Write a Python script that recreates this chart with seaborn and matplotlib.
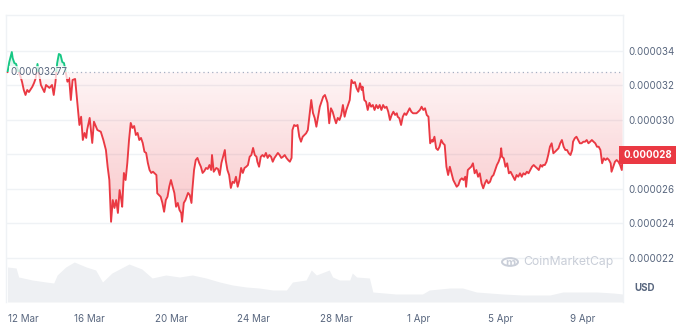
import numpy as np
import matplotlib
matplotlib.use("Agg")
import matplotlib.pyplot as plt
import seaborn as sns
from matplotlib.path import Path
from matplotlib.patches import Rectangle, Circle
import matplotlib.transforms as mtransforms

# ---------------- data ----------------
# hours since 12 Mar 00:00, price in units of 1e-6 USD
hours = [0, 2, 5, 6, 8, 10, 12, 15, 17, 19, 21, 23, 25, 29, 31, 33, 35, 37, 39, 43,
         45, 49, 52, 54, 56, 58, 60, 62, 64, 66, 68, 70, 72, 74, 76, 79, 82, 84, 86, 88,
         90, 92, 93, 96, 99, 101, 105, 109, 112, 115, 117, 119, 121, 123, 125, 127, 129, 131, 133, 134,
         136, 138, 140, 142, 144, 146, 148, 150, 152, 154, 156, 158, 160, 162, 164, 166, 168, 170, 174, 175,
         179, 181, 183, 185, 187, 189, 191, 193, 195, 197, 199, 201, 203, 204, 206, 208, 211, 213, 215, 216,
         218, 220, 222, 224, 226, 228, 230, 232, 234, 236, 238, 239, 241, 244, 246, 248, 250, 254, 255, 257,
         259, 261, 263, 265, 267, 269, 271, 273, 275, 277, 279, 281, 283, 285, 287, 289, 291, 292, 294, 296,
         298, 300, 302, 304, 306, 308, 310, 312, 316, 318, 320, 322, 324, 326, 328, 330, 332, 333, 335, 337,
         339, 341, 343, 345, 347, 349, 351, 353, 355, 357, 359, 361, 363, 365, 367, 369, 371, 373, 374, 376,
         378, 380, 382, 384, 386, 388, 390, 392, 394, 396, 398, 400, 402, 404, 406, 408, 410, 412, 414, 415,
         417, 419, 421, 423, 425, 427, 429, 431, 433, 435, 437, 439, 441, 443, 445, 447, 449, 451, 453, 455,
         456, 458, 460, 462, 464, 466, 468, 470, 472, 474, 478, 480, 482, 484, 486, 488, 490, 492, 494, 496,
         497, 499, 501, 503, 505, 507, 509, 511, 513, 515, 517, 519, 521, 523, 525, 527, 529, 531, 533, 535,
         536, 538, 540, 542, 544, 546, 548, 550, 552, 554, 556, 558, 560, 562, 564, 566, 568, 570, 572, 574,
         576, 577, 578, 580, 582, 584, 586, 588, 590, 593, 595, 597, 599, 601, 603, 605, 607, 609, 611, 613,
         615, 617, 619, 621, 623, 625, 626, 628, 630, 632, 634, 636, 638, 640, 642, 644, 646, 648, 650, 652,
         654, 656, 658, 660, 661, 663, 665, 667, 669, 671, 673, 675, 677, 679, 681, 683, 685, 687, 689, 691,
         693, 695, 697, 699, 701, 703, 705, 706, 708, 710, 712, 714, 716, 718, 719]
price_micro = [32.77, 33.36, 33.94, 33.59, 33.30, 33.25, 32.90, 32.55, 32.20, 31.74, 31.45, 31.74, 31.62, 31.93, 32.15, 32.43, 33.25, 32.61, 32.03, 31.62,
               32.03, 31.86, 32.03, 31.45, 32.20, 33.30, 33.83, 33.77, 33.36, 33.30, 32.78, 32.22, 32.43, 31.16, 32.32, 32.38, 30.77, 29.71, 30.19, 28.84,
               29.25, 28.96, 29.42, 30.12, 28.67, 29.90, 29.42, 29.32, 28.84, 28.26, 27.29, 26.52, 24.10, 25.36, 24.90, 25.36, 24.61, 25.94, 25.36, 24.97,
               26.93, 26.52, 27.51, 28.84, 29.83, 29.54, 29.65, 29.13, 29.25, 28.84, 28.96, 28.67, 28.16, 28.09, 27.51, 27.10, 26.93, 27.00, 26.81, 25.75,
               25.55, 25.19, 24.68, 25.36, 25.55, 26.13, 26.52, 26.13, 25.77, 24.97, 25.19, 24.78, 24.61, 24.10, 25.19, 25.36, 25.77, 25.65, 25.19, 25.94,
               27.10, 27.68, 27.80, 27.51, 27.29, 26.93, 27.04, 27.22, 27.16, 27.39, 27.10, 27.97, 27.00, 27.22, 27.16, 26.81, 27.51, 28.26, 27.68, 27.10,
               26.81, 26.06, 26.42, 26.35, 26.71, 26.13, 26.52, 27.22, 26.93, 27.22, 27.29, 27.39, 27.87, 27.97, 28.38, 27.97, 27.87, 27.58, 27.29, 27.87,
               27.97, 27.87, 28.09, 27.80, 27.97, 27.87, 27.58, 27.80, 28.09, 27.97, 27.80, 27.87, 27.97, 27.80, 27.68, 27.58, 27.80, 29.42, 29.71, 29.65,
               29.71, 29.03, 28.74, 29.03, 29.13, 29.23, 29.42, 30.29, 31.16, 30.41, 30.12, 29.61, 30.19, 30.77, 31.06, 31.35, 31.45, 31.16, 30.99, 29.81,
               30.68, 30.48, 30.12, 29.81, 30.12, 30.00, 30.29, 30.87, 30.19, 30.58, 30.87, 31.16, 32.32, 32.13, 32.20, 31.84, 31.64, 32.13, 31.74, 31.93,
               31.16, 31.06, 30.58, 30.99, 30.77, 30.87, 30.58, 30.87, 30.68, 30.87, 30.58, 30.87, 30.70, 30.77, 30.48, 30.00, 30.29, 30.48, 30.29, 30.39,
               30.19, 30.10, 29.71, 30.19, 30.39, 30.29, 30.48, 30.68, 30.48, 30.39, 30.39, 30.48, 30.58, 30.77, 30.58, 30.68, 30.29, 30.19, 28.65, 28.84,
               28.74, 29.03, 28.36, 28.26, 28.45, 28.84, 28.65, 28.55, 27.29, 26.81, 27.29, 26.91, 26.52, 26.33, 26.13, 26.23, 26.52, 26.62, 26.52, 26.71,
               26.13, 27.10, 27.20, 27.29, 27.49, 26.91, 27.10, 26.71, 26.91, 26.33, 26.04, 26.33, 26.52, 26.33, 26.42, 26.71, 26.81, 27.10, 27.39, 27.58,
               27.87, 28.36, 27.87, 27.78, 27.29, 27.49, 26.91, 27.00, 26.81, 26.52, 26.81, 26.71, 26.91, 26.71, 26.91, 26.84, 27.00, 26.91, 27.10, 27.29,
               27.39, 27.29, 27.20, 27.10, 27.39, 27.29, 27.39, 27.39, 27.58, 27.97, 28.45, 28.65, 28.07, 28.16, 28.26, 28.36, 28.65, 28.84, 28.45, 28.26,
               28.26, 28.07, 27.97, 28.26, 28.74, 28.94, 29.03, 28.84, 28.65, 28.65, 28.74, 28.74, 28.84, 28.65, 28.74, 28.84, 28.74, 28.65, 28.45, 28.45,
               28.26, 27.49, 27.78, 27.68, 27.78, 27.68, 27.49, 27.00, 27.29, 27.58, 27.68, 27.58, 27.39, 27.10, 27.97]
ref_price_micro = 32.77
ref_label = "0.00003277"
last_label = "0.000028"

vol_hours = [0, 10, 13, 29, 45, 54, 58, 68, 78, 92, 103, 111, 122, 142, 157, 169, 185, 201, 216, 232,
             248, 263, 279, 294, 310, 326, 333, 349, 355, 361, 376, 380, 388, 400, 403, 408, 423, 427, 454, 485,
             493, 517, 532, 548, 579, 602, 634, 649, 673, 689, 708, 719]
vol_musd = [3.5, 3.4, 2.5, 2.2, 2.0, 1.9, 2.7, 3.5, 4.0, 3.5, 3.2, 2.0, 2.9, 3.8, 3.3, 2.4, 2.7, 2.5, 2.7, 2.4,
            2.0, 1.7, 1.5, 1.4, 1.2, 1.2, 2.0, 2.2, 3.2, 2.7, 3.2, 2.5, 2.2, 2.2, 2.9, 2.5, 2.4, 1.0, 0.8, 0.8,
            1.2, 1.4, 1.4, 1.0, 0.8, 0.7, 0.7, 1.0, 1.0, 1.0, 0.9, 0.8]

tick_hours = [0, 96, 192, 288, 384, 480, 576, 672]
tick_labels = ["12 Mar", "16 Mar", "20 Mar", "24 Mar", "28 Mar", "1 Apr", "5 Apr", "9 Apr"]
y_ticks_micro = [22, 24, 26, 28, 30, 32, 34]

# ---------------- style ----------------
sns.set_style("white")
plt.rcParams["font.family"] = ["Inter", "DejaVu Sans"]

RED = "#ea3943"
GREEN = "#16c784"
GRAY_TXT = "#58667e"
GRID = "#eff2f5"

W, H = 687, 333
fig = plt.figure(figsize=(W / 100, H / 100), dpi=100)
fig.patch.set_facecolor("white")

left_px, right_px, top_px, bot_px = 6, 623, 15, 302
rect = [left_px / W, 1 - bot_px / H, (right_px - left_px) / W, (bot_px - top_px) / H]

x = np.array(hours, dtype=float)
p = np.array(price_micro) * 1e-6
ref = ref_price_micro * 1e-6
xmin, xmax = -1.8, 719.4
ylo, yhi = 19.449e-6, 36.087e-6

# volume axes (behind)
axv = fig.add_axes(rect, zorder=0)
axv.fill_between(vol_hours, 0, vol_musd, color="#eef0f3", lw=0)
axv.set_xlim(xmin, xmax)
axv.set_ylim(0, 28.7)
axv.axis("off")

# price axes
ax = fig.add_axes(rect, zorder=1)
ax.patch.set_visible(False)
ax.set_xlim(xmin, xmax)
ax.set_ylim(ylo, yhi)

# grid
for t in y_ticks_micro:
    ax.axhline(t * 1e-6, color=GRID, lw=1, zorder=0)

# gradient fills
def grad_fill(mask_below, color, a0, a1, yfar):
    if mask_below:
        coll = ax.fill_between(x, p, ref, where=p <= ref, interpolate=True,
                               facecolor="none", edgecolor="none")
        ext = [xmin, xmax, yfar, ref]
        alphas = np.linspace(a1, a0, 256)[:, None]  # bottom (row0 at bottom with origin lower)
    else:
        coll = ax.fill_between(x, p, ref, where=p >= ref, interpolate=True,
                               facecolor="none", edgecolor="none")
        ext = [xmin, xmax, ref, yfar]
        alphas = np.linspace(a0, a1, 256)[:, None]
    rgb = np.array(matplotlib.colors.to_rgb(color))
    img = np.zeros((256, 2, 4))
    img[..., :3] = rgb
    img[..., 3] = alphas
    im = ax.imshow(img, extent=ext, origin="lower", aspect="auto", zorder=1,
                   interpolation="bilinear")
    paths = coll.get_paths()
    if paths:
        cp = Path.make_compound_path(*paths)
        im.set_clip_path(cp, ax.transData)
    else:
        im.remove()

grad_fill(True, RED, 0.05, 0.30, 23.5e-6)
grad_fill(False, GREEN, 0.05, 0.30, 34.2e-6)
ax.set_xlim(xmin, xmax)
ax.set_ylim(ylo, yhi)

# reference dotted line
ax.axhline(ref, color="#a6b0c3", lw=0.9, ls=(0, (1, 2.5)), zorder=2)

# price line: red below ref, green above
sns.lineplot(x=x, y=p, ax=ax, color=RED, lw=1.35, estimator=None, zorder=3)
line_red = ax.lines[-1]
sns.lineplot(x=x, y=p, ax=ax, color=GREEN, lw=1.35, estimator=None, zorder=3)
line_green = ax.lines[-1]
r_below = Rectangle((xmin, ylo), xmax - xmin, ref - ylo, transform=ax.transData)
r_above = Rectangle((xmin, ref), xmax - xmin, yhi - ref, transform=ax.transData)
line_red.set_clip_path(r_below)
line_green.set_clip_path(r_above)

# spines
for s in ["left", "right", "top"]:
    ax.spines[s].set_visible(True)
    ax.spines[s].set_color(GRID)
    ax.spines[s].set_linewidth(1)
ax.spines["bottom"].set_visible(False)

# ticks
ax.yaxis.tick_right()
ax.set_yticks([t * 1e-6 for t in y_ticks_micro])
ax.set_yticklabels(["" if t == 28 else f"{t * 1e-6:.6f}" for t in y_ticks_micro])
ax.set_xticks(tick_hours)
ax.set_xticklabels(tick_labels)
ax.tick_params(axis="both", length=0, labelsize=7, labelcolor=GRAY_TXT)
ax.tick_params(axis="y", pad=3.6)
ax.tick_params(axis="x", pad=9)
ax.get_xticklabels()[0].set_horizontalalignment("left")
ax.set_xlabel("")
ax.set_ylabel("")

# reference label
ax.text(11 / W * 0 + 0.0072, ref, ref_label, transform=mtransforms.blended_transform_factory(ax.transAxes, ax.transData),
        ha="left", va="center", fontsize=7, color=GRAY_TXT, zorder=5,
        bbox=dict(boxstyle="square,pad=0.15", facecolor="white", edgecolor="none", alpha=0.75))

# last price box
ax.text(1.0, p[-1], last_label, transform=mtransforms.blended_transform_factory(ax.transAxes, ax.transData),
        ha="left", va="center", fontsize=7, color="white", fontweight="bold", zorder=6, clip_on=False,
        bbox=dict(boxstyle="square,pad=0.45", facecolor=RED, edgecolor="none"))

# USD
fig.text(645 / W, 1 - 288 / H, "USD", ha="center", va="center", fontsize=7,
         fontweight="bold", color=GRAY_TXT)

# watermark
wm_col = "#c9ced8"
fig.text(523 / W, 1 - 262 / H, "CoinMarketCap", ha="left", va="center", fontsize=8.8,
         color=wm_col)
circ = Circle((510 / W, 1 - 262 / H), 8 / W, transform=fig.transFigure, fill=False,
              edgecolor=wm_col, lw=1.4)
fig.patches.append(circ)
fig.text(510 / W, 1 - 262.5 / H, "m", ha="center", va="center", fontsize=8,
         color=wm_col, fontweight="bold")

fig.savefig("out.png", dpi=100, facecolor="white")
